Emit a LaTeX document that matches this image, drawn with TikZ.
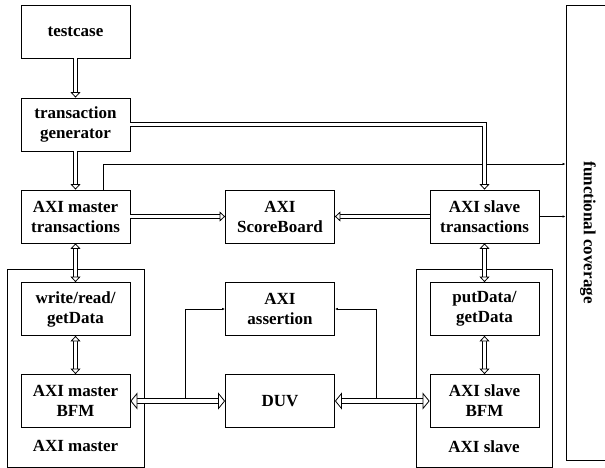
\documentclass[tikz,border=0pt]{standalone}
\usepackage{fontspec}
\setmainfont{Liberation Serif}
\usetikzlibrary{arrows.meta,positioning}

\begin{document}
\begin{tikzpicture}[x=1pt,y=-1pt,
        blk/.style={draw,line width=0.8pt,minimum width=109pt,minimum height=53pt,
            align=center,font=\fontsize{17}{20}\selectfont\bfseries},
        grp/.style={draw,line width=0.8pt,minimum height=198pt},
        lbl/.style={font=\fontsize{17}{20}\selectfont\bfseries},
        tips/.style={postaction={draw,line width=0.8pt,dash pattern=on 0pt off 2000pt,
            shorten >=0pt,shorten <=0pt,#1}},
        hd/.tip={Triangle[open,fill=white,length=5.5pt,width=10pt]},
        bighd/.tip={Triangle[open,fill=white,length=7pt,width=17pt]},
        shaft/.style={line width=#1+1.6pt,postaction={draw=white,line width=#1}},
        dbl/.style={shaft=3pt,shorten >=5pt,tips={-hd}},
        dblboth/.style={shaft=3pt,shorten >=5pt,shorten <=5pt,tips={hd-hd}},
        wide/.style={shaft=4.5pt,shorten >=6.5pt,shorten <=6.5pt,tips={bighd-bighd}},
        thin/.style={line width=0.8pt,-{Latex[length=3pt,width=2.5pt]}}]
    \useasboundingbox (0,0) rectangle (605,468);

    % outer groups
    \node[grp,minimum width=137pt] (mst) at (75.5,368) {};
    \node[grp,minimum width=136pt] (slv) at (484,368) {};
    \node[lbl] at ([yshift=21pt]mst.south) {AXI master};
    \node[lbl] at ([yshift=21pt]slv.south) {AXI slave};
    \node[draw,line width=0.8pt,minimum width=44pt,minimum height=455pt] (fc) at (588,232.5) {};
    \node[lbl,rotate=-90] at (fc) {functional coverage};

    % blocks
    \node[blk] (tc)   at (75.5,31.5)  {testcase};
    \node[blk] (gen)  at (75.5,124.5) {transaction\\generator};
    \node[blk] (mtr)  at (75.5,216.5) {AXI master\\transactions};
    \node[blk] (sb)   at (280,216.5)  {AXI\\ScoreBoard};
    \node[blk] (str)  at (484.5,216.5) {AXI slave\\transactions};
    \node[blk] (wrg)  at (75.5,309)   {write/read/\\getData};
    \node[blk] (mbfm) at (75.5,401)   {AXI master\\BFM};
    \node[blk] (asr)  at (280,309)    {AXI\\assertion};
    \node[blk] (duv)  at (280,401)    {DUV};
    \node[blk] (pgd)  at (484.5,309)  {putData/\\getData};
    \node[blk] (sbfm) at (484.5,401)  {AXI slave\\BFM};

    % taps to assertion
    \coordinate (tapL) at (185,401);
    \coordinate (tapR) at (376,401);
    \draw[thin] (tapL) |- (asr.west);
    \draw[thin] (tapR) |- (asr.east);

    % coverage links
    \draw[thin] ([xshift=27.5pt]mtr.north) |- ([yshift=68.5pt]fc.west);
    \draw[thin] (str.east) -- (str.east -| fc.west);

    % transaction flow
    \draw[dbl] (tc) -- (gen);
    \draw[dbl] (gen) -- (mtr);
    \draw[dbl] (gen.east) -| (str.north);
    \draw[dbl] (mtr) -- (sb);
    \draw[dbl] (str) -- (sb);
    \draw[dblboth] (mtr) -- (wrg);
    \draw[dblboth] (wrg) -- (mbfm);
    \draw[dblboth] (str) -- (pgd);
    \draw[dblboth] (pgd) -- (sbfm);
    \draw[wide] (mbfm) -- (duv);
    \draw[wide] (duv) -- (sbfm);
\end{tikzpicture}
\end{document}
